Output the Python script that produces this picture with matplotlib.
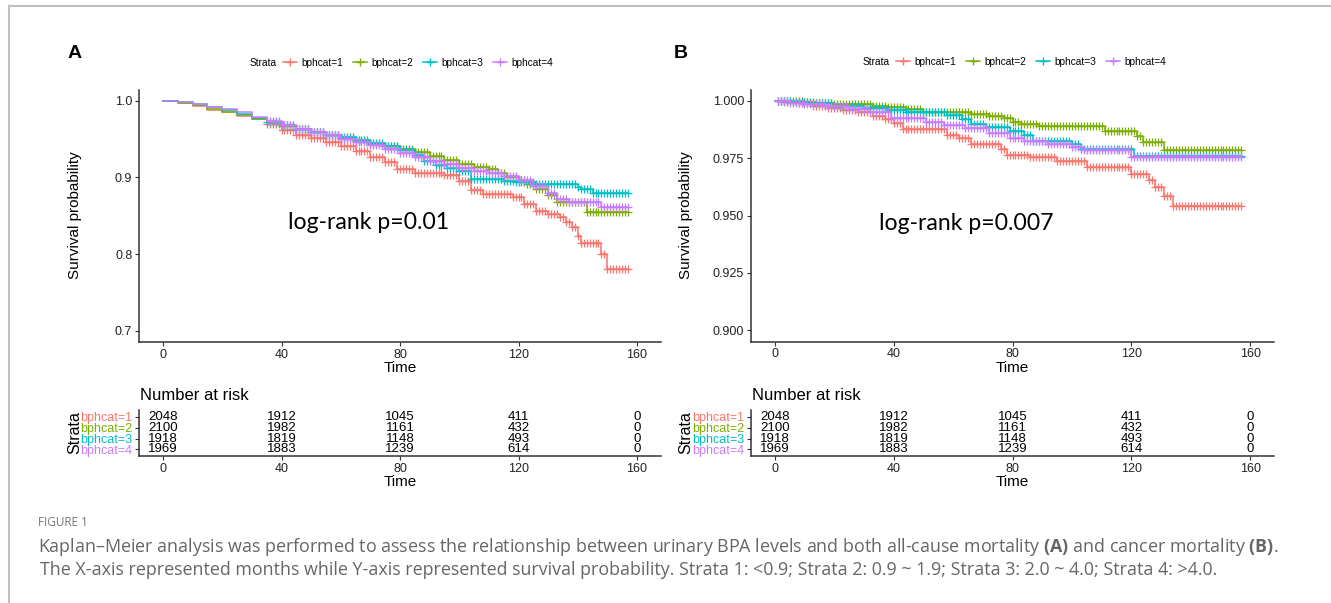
import numpy as np
import matplotlib
matplotlib.use("Agg")
import matplotlib.pyplot as plt
from matplotlib.lines import Line2D

plt.rcParams['font.family'] = ['Liberation Sans', 'DejaVu Sans']
plt.rcParams['mathtext.fontset'] = 'custom'
plt.rcParams['mathtext.bf'] = 'Open Sans:bold'
plt.rcParams['mathtext.rm'] = 'Open Sans'

# ---- data ----
strata = ["bphcat=1", "bphcat=2", "bphcat=3", "bphcat=4"]
colors = ["#F8766D", "#7CAE00", "#00BFC4", "#C77CFF"]

# A: all-cause mortality (step times / survival)
red_a_t = [0, 5, 10, 15, 20, 25, 30, 35, 40, 45, 50, 55, 60, 65, 70, 75, 79, 85, 95, 100, 104, 108, 118, 122, 126, 130, 134, 136, 138, 140, 141, 148, 150, 157]
red_a_s = [1.0, 0.997, 0.993, 0.988, 0.985, 0.981, 0.977, 0.970, 0.962, 0.956, 0.951, 0.946, 0.941, 0.934, 0.927, 0.920, 0.911, 0.906, 0.903, 0.896, 0.884, 0.878, 0.875, 0.866, 0.856, 0.852, 0.848, 0.842, 0.835, 0.823, 0.814, 0.800, 0.781, 0.781]
green_a_t = [0, 5, 10, 15, 20, 25, 30, 35, 40, 45, 50, 55, 60, 65, 70, 75, 80, 85, 90, 95, 100, 105, 110, 113, 116, 120, 123, 126, 130, 133, 143, 157]
green_a_s = [1.0, 0.998, 0.995, 0.990, 0.986, 0.982, 0.977, 0.972, 0.967, 0.963, 0.959, 0.955, 0.952, 0.948, 0.944, 0.941, 0.937, 0.933, 0.928, 0.923, 0.918, 0.914, 0.911, 0.906, 0.900, 0.897, 0.892, 0.885, 0.877, 0.868, 0.855, 0.855]
cyan_a_t = [0, 5, 10, 15, 20, 25, 30, 35, 40, 45, 50, 55, 60, 65, 70, 75, 80, 85, 88, 92, 96, 100, 104, 115, 119, 126, 140, 141, 145, 157]
cyan_a_s = [1.0, 0.999, 0.996, 0.992, 0.988, 0.983, 0.978, 0.973, 0.969, 0.964, 0.960, 0.956, 0.953, 0.949, 0.945, 0.941, 0.936, 0.930, 0.922, 0.916, 0.912, 0.908, 0.898, 0.896, 0.894, 0.892, 0.888, 0.885, 0.880, 0.880]
purple_a_t = [0, 5, 10, 15, 20, 25, 30, 35, 40, 45, 50, 55, 60, 65, 70, 75, 80, 85, 90, 95, 100, 105, 110, 115, 120, 125, 130, 133, 137, 148, 157]
purple_a_s = [1.0, 0.999, 0.996, 0.992, 0.989, 0.985, 0.979, 0.974, 0.969, 0.964, 0.959, 0.955, 0.950, 0.946, 0.942, 0.937, 0.932, 0.927, 0.922, 0.917, 0.913, 0.909, 0.906, 0.902, 0.897, 0.889, 0.880, 0.872, 0.868, 0.861, 0.861]

# B: cancer mortality
red_b_t = [0, 3, 8, 13, 18, 23, 28, 33, 37, 40, 43, 58, 62, 66, 76, 78, 86, 95, 105, 120, 126, 128, 131, 134, 157]
red_b_s = [1.0, 0.9995, 0.999, 0.998, 0.997, 0.996, 0.995, 0.9935, 0.992, 0.9905, 0.9876, 0.985, 0.984, 0.981, 0.979, 0.9765, 0.9756, 0.9738, 0.9712, 0.9683, 0.9654, 0.9625, 0.9586, 0.9542, 0.9542]
green_b_t = [0, 10, 14, 20, 33, 38, 44, 50, 62, 66, 72, 77, 80, 83, 89, 111, 122, 124, 131, 157]
green_b_s = [1.0, 0.9995, 0.999, 0.9988, 0.998, 0.9972, 0.9964, 0.9953, 0.9950, 0.9942, 0.9935, 0.9925, 0.991, 0.9898, 0.989, 0.987, 0.9847, 0.9822, 0.9785, 0.9785]
cyan_b_t = [0, 6, 12, 20, 30, 38, 44, 58, 63, 66, 71, 79, 84, 87, 100, 103, 121, 157]
cyan_b_s = [1.0, 0.9995, 0.999, 0.998, 0.997, 0.9962, 0.995, 0.9938, 0.992, 0.990, 0.9887, 0.987, 0.985, 0.9826, 0.9812, 0.979, 0.976, 0.976]
purple_b_t = [0, 5, 10, 17, 25, 32, 39, 51, 57, 64, 72, 79, 84, 92, 100, 104, 120, 157]
purple_b_s = [1.0, 0.9993, 0.9988, 0.998, 0.9965, 0.995, 0.9924, 0.991, 0.9895, 0.9884, 0.986, 0.984, 0.9826, 0.9812, 0.980, 0.9785, 0.9756, 0.9756]

# censoring is monthly, from these months up to end of follow-up
cens_start_a = [35, 36, 35, 36]
cens_start_b = [1, 2, 1, 1]
follow_end = 157

risk_times = [0, 40, 80, 120, 160]
risk_1 = [2048, 1912, 1045, 411, 0]
risk_2 = [2100, 1982, 1161, 432, 0]
risk_3 = [1918, 1819, 1148, 493, 0]
risk_4 = [1969, 1883, 1239, 614, 0]

W, H = 1331, 603
fig = plt.figure(figsize=(W / 100, H / 100), dpi=100)


def box(x0, y0, x1, y1):
    return [x0 / W, 1 - y1 / H, (x1 - x0) / W, (y1 - y0) / H]


def style(ax):
    for s in ["top", "right"]:
        ax.spines[s].set_visible(False)
    for s in ["left", "bottom"]:
        ax.spines[s].set_color("#333333")
        ax.spines[s].set_linewidth(1.1)
    ax.tick_params(direction="out", length=3, width=0.8, color="#333333",
                   labelsize=9, labelcolor="#222222", pad=2)
    ax.set_xlim(-8, 168)
    ax.set_xticks([0, 40, 80, 120, 160])


def km(ax, curves, starts, ylim, yticks, fmt, ptext, pxy):
    style(ax)
    for (t, s), c, cs in zip(curves, colors, starts):
        t = np.array(t, dtype=float)
        s = np.array(s)
        ax.step(t, s, where="post", color=c, lw=1.1)
        cens = np.arange(cs, follow_end + 1)
        idx = np.searchsorted(t, cens, side="right") - 1
        ax.plot(cens, s[idx], ls="none", marker="+", color=c, ms=6, mew=0.9)
    ax.set_ylim(*ylim)
    ax.set_yticks(yticks)
    ax.set_yticklabels([fmt.format(v) for v in yticks])
    ax.text(pxy[0], pxy[1], ptext, family="Lato", fontsize=16.6,
            ha="left", va="center", color="black")


def table(ax):
    style(ax)
    rows = [risk_1, risk_2, risk_3, risk_4]
    for i, r in enumerate(rows):
        for t, n in zip(risk_times, r):
            ax.text(t, i, str(n), ha="center", va="center", fontsize=9.5)
    ax.set_ylim(3.6, -0.6)
    ax.set_yticks(range(4))
    ax.set_yticklabels(strata)
    for lab, c in zip(ax.get_yticklabels(), colors):
        lab.set_color(c)
        lab.set_fontsize(9)


curves_a = [(red_a_t, red_a_s), (green_a_t, green_a_s), (cyan_a_t, cyan_a_s), (purple_a_t, purple_a_s)]
curves_b = [(red_b_t, red_b_s), (green_b_t, green_b_s), (cyan_b_t, cyan_b_s), (purple_b_t, purple_b_s)]

axA = fig.add_axes(box(139.3, 89.5, 660.7, 342))
km(axA, curves_a, cens_start_a, (0.685, 1.015), [0.7, 0.8, 0.9, 1.0], "{:.1f}",
   "log-rank p=0.01", (42.2, 0.841))
axB = fig.add_axes(box(751, 89.5, 1274, 341.5))
km(axB, curves_b, cens_start_b, (0.895, 1.005), [0.9, 0.925, 0.95, 0.975, 1.0], "{:.3f}",
   "log-rank p=0.007", (35, 0.9467))

tA = fig.add_axes(box(139.3, 410.4, 660.7, 456))
table(tA)
tB = fig.add_axes(box(751, 410.4, 1274, 456))
table(tB)

# labels
for cx, x0, ylab_x in [(400, 140, 75), (1012.5, 752, 686)]:
    fig.text(cx / W, 1 - 368 / H, "Time", ha="center", va="center", fontsize=11)
    fig.text(cx / W, 1 - 482 / H, "Time", ha="center", va="center", fontsize=11)
    fig.text(ylab_x / W, 1 - 215 / H, "Survival probability", rotation=90,
             ha="center", va="center", fontsize=11)
    fig.text(ylab_x / W, 1 - 433 / H, "Strata", rotation=90,
             ha="center", va="center", fontsize=11.5)
    fig.text(x0 / W, 1 - 395 / H, "Number at risk", ha="left", va="center", fontsize=12)

fig.text(68 / W, 1 - 53 / H, "A", fontsize=14, fontweight="bold", ha="left", va="center")
fig.text(674 / W, 1 - 53 / H, "B", fontsize=14, fontweight="bold", ha="left", va="center")

# legends
handles = [Line2D([], [], color=c, lw=1.1, marker="+", ms=6, mew=1) for c in colors]
legs = []
for cx, ly in [(418, 63), (1031, 62)]:
    leg = fig.legend(handles, strata, loc="center", bbox_to_anchor=(cx / W, 1 - ly / H),
                     ncol=4, frameon=False, fontsize=7.3, handlelength=1.4,
                     handletextpad=0.4, columnspacing=1.0, borderpad=0, borderaxespad=0)
    legs.append((leg, ly))
fig.canvas.draw()
for leg, ly in legs:
    x0 = leg.get_window_extent().x0
    fig.text((x0 - 6) / W, 1 - ly / H, "Strata", ha="right", va="center", fontsize=7.3)

# frame
fig.add_artist(Line2D([9 / W, 1], [1 - 6 / H, 1 - 6 / H], color="#c0c0c0", lw=1.5))
fig.add_artist(Line2D([9 / W, 9 / W], [0, 1 - 6 / H], color="#c0c0c0", lw=1.5))

# caption
fig.text(38 / W, 1 - 522 / H, "FIGURE 1", family="Open Sans", fontsize=8.5,
         color="#777777", ha="left", va="center")
line1 = ("Kaplan\u2013Meier analysis was performed to assess the relationship between urinary BPA "
         "levels and both all-cause mortality $\\mathbf{(A)}$ and cancer mortality $\\mathbf{(B)}$.")
line2 = ("The X-axis represented months while Y-axis represented survival probability. "
         "Strata 1: <0.9; Strata 2: 0.9 ~ 1.9; Strata 3: 2.0 ~ 4.0; Strata 4: >4.0.")
c1 = fig.text(38 / W, 1 - 547 / H, line1, family="Open Sans", fontsize=11,
              color="#666666", ha="left", va="center")
c2 = fig.text(40 / W, 1 - 570 / H, line2, family="Open Sans", fontsize=11,
              color="#666666", ha="left", va="center")
fig.canvas.draw()
w1 = c1.get_window_extent().width
fs = 11 * 1236 / w1
c1.set_fontsize(fs)
c2.set_fontsize(fs)

fig.savefig("out.png", dpi=100)
